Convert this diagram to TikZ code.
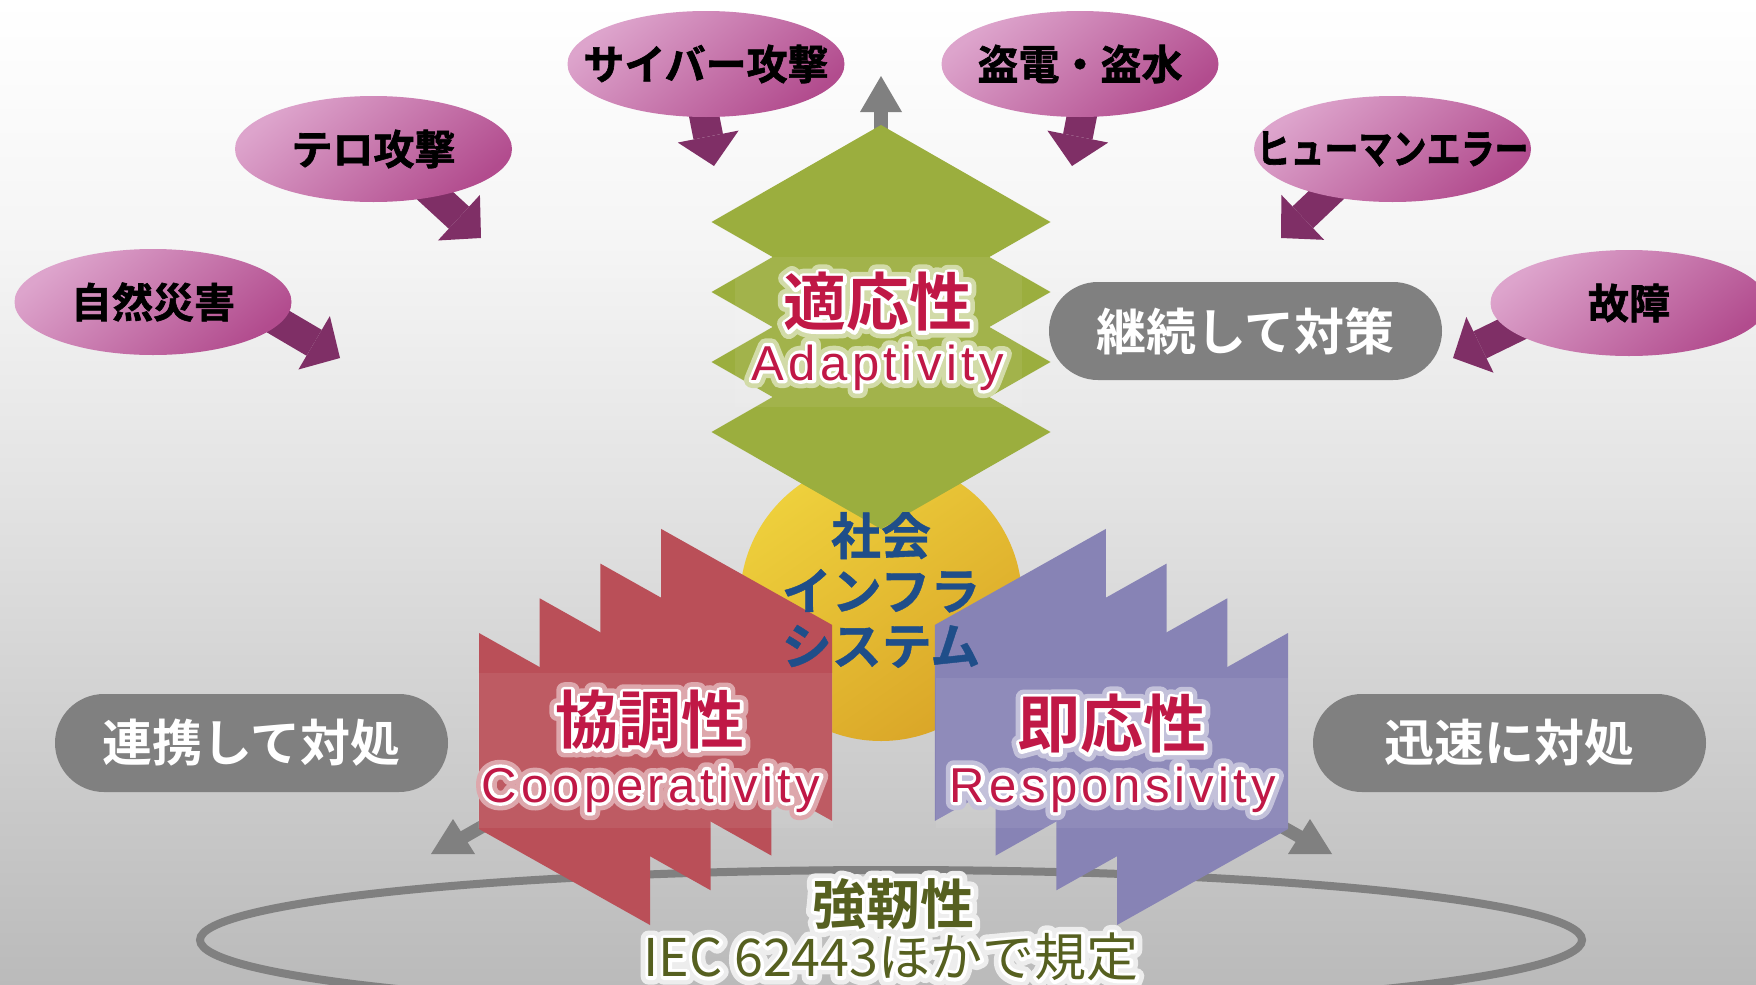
\documentclass[tikz,border=0pt]{standalone}
\usepackage{fontspec}
\usepackage{graphicx}
\usetikzlibrary{arrows.meta,shapes.geometric}
\setmainfont{Liberation Sans}
\newfontfamily\jp{Noto Sans CJK JP}[BoldFont={Noto Sans CJK JP Bold}]
\newfontfamily\jpheavy{Noto Sans CJK JP Bold}[FakeBold=1.5]
\newfontfamily\jpstrong{Noto Sans CJK JP Bold}[FakeBold=0.8]
\newfontfamily\latsp{Liberation Sans}[LetterSpace=9]

\definecolor{pinklight}{RGB}{221,164,204}
\definecolor{pinkdark}{RGB}{178,76,142}
\definecolor{threatplum}{RGB}{127,47,102}
\definecolor{axisgray}{RGB}{128,128,128}
\definecolor{leafgreen}{RGB}{155,174,62}
\definecolor{sunlight}{RGB}{238,208,60}
\definecolor{sundark}{RGB}{218,166,40}
\definecolor{panelred}{RGB}{186,79,88}
\definecolor{panelblue}{RGB}{135,131,181}
\definecolor{crimson}{RGB}{192,24,70}
\definecolor{navyblue}{RGB}{31,78,137}
\definecolor{olive}{RGB}{86,96,32}

% backdrop: white at the top, fading to light gray at the bottom
\pgfdeclareverticalshading{backdrop}{100bp}{color(0bp)=(black!27); color(25bp)=(black!27);
  color(37.5bp)=(black!19); color(50bp)=(black!11); color(62.5bp)=(black!4);
  color(75bp)=(white); color(100bp)=(white)}

% glowing text: a wide tinted stroke, a white outline stroke, then the filled text
\newcommand\halotext[2]{\leavevmode
  \rlap{\color{#1}\special{pdf:literal direct 2 Tr 8 w 1 j 1 J}#2\special{pdf:literal direct 0 Tr 0 j 0 J}}%
  \rlap{\color{white}\special{pdf:literal direct 2 Tr 3.4 w 1 j 1 J}#2\special{pdf:literal direct 0 Tr 0 j 0 J}}#2}

\pgfdeclarelayer{bglayer}
\pgfdeclarelayer{threatlayer}
\pgfsetlayers{bglayer,threatlayer,main}

\begin{document}
\begin{tikzpicture}[x=0.5pt,y=-0.5pt,
  threat/.style={ellipse, minimum width=138.5pt, minimum height=53pt, inner sep=0pt,
    top color=pinklight, bottom color=pinkdark, shading angle=40,
    font=\jpheavy\fontsize{20.5pt}{24pt}\selectfont, text=black},
  threatarrow/.style={draw=threatplum, line width=15pt,
    -{Triangle[length=15pt,width=31pt,line width=0pt]}},
  axisarrow/.style={draw=axisgray, line width=7pt,
    -{Triangle[length=18pt,width=21pt,line width=0pt]}},
  axisline/.style={draw=axisgray, line width=6.5pt},
  pill/.style={fill=axisgray, rounded corners=24.5pt, minimum width=196.5pt,
    minimum height=49pt, inner sep=0pt, text=white,
    font=\jp\bfseries\fontsize{25pt}{30pt}\selectfont},
  jptitle/.style={text=crimson, inner sep=0pt, font=\jp\bfseries\fontsize{31.5pt}{36pt}\selectfont},
  entitle/.style={text=crimson, inner sep=0pt, anchor=base, font=\latsp\fontsize{24.5pt}{28pt}\selectfont},
  glowbox/.style={fill=white, opacity=0.07}
]
\useasboundingbox (0,0) rectangle (1756,985);
\begin{pgfonlayer}{bglayer}
  \shade[shading=backdrop] (0,0) rectangle (1756,985);
\end{pgfonlayer}

% resilience ring at the base
\draw[axisgray, line width=4pt] (891,940) ellipse [x radius=345.5pt, y radius=35pt];

% three axes from the hub
\coordinate (hub) at (881,600);
\coordinate (uptip) at (881,76);
\coordinate (lefthead) at (455,842);
\coordinate (righthead) at (1309,842);
\draw[axisarrow] (hub) -- (uptip);
\draw[axisline] (hub) -- (lefthead);
\draw[axisline] (hub) -- (righthead);
\fill[axisgray] (453,819) -- (475,854) -- (431,854) -- cycle;
\fill[axisgray] (1310,819) -- (1332,854) -- (1288,854) -- cycle;

% social infrastructure core
\node[circle, minimum size=141pt, inner sep=0pt, top color=sunlight, bottom color=sundark,
  shading angle=35] (core) at (hub) {};

% adaptivity: stacked diamonds
\foreach \cy in {222,292,362,432}
  \fill[leafgreen] (881,\cy-97) -- (1050.5,\cy) -- (881,\cy+97) -- (711.5,\cy) -- cycle;
\fill[glowbox] (735,257) rectangle (1022,407);

% cooperativity and responsivity: staggered panels
\foreach \i in {3,2,1,0} {
  \fill[panelred] ({479+60.7*\i},{633-34.7*\i}) -- ++(171,96) -- ++(0,196) -- ++(-171,-96) -- cycle;
  \fill[panelblue] ({1288-60.7*\i},{633-34.7*\i}) -- ++(-171,96) -- ++(0,196) -- ++(171,-96) -- cycle;
}
\fill[glowbox] (478,673) rectangle (833,828);
\fill[glowbox] (936,678) rectangle (1288,828);

\node[jptitle] (adaptJ) at (878,302) {\halotext{leafgreen!45!white}{適応性}};
\node[entitle] (adaptE) at (878,380) {\halotext{leafgreen!45!white}{Adaptivity}};
\node[jptitle] (coopJ) at (650,720) {\halotext{panelred!50!white}{協調性}};
\node[entitle] (coopE) at (651,802) {\halotext{panelred!50!white}{Cooperativity}};
\node[jptitle] (respJ) at (1112,724) {\halotext{panelblue!50!white}{即応性}};
\node[entitle] (respE) at (1113,802) {\halotext{panelblue!50!white}{Responsivity}};

\node[text=olive, inner sep=0pt, font=\jp\bfseries\fontsize{27pt}{30pt}\selectfont]
  (robust) at (893,904) {\halotext{black!7}{強靭性}};
\node[text=olive, inner sep=0pt, font=\jp\fontsize{26pt}{30pt}\selectfont]
  (iec) at (891,957) {\halotext{black!7}{IEC 62443ほかで規定}};

\node[text=navyblue, align=center, inner sep=0pt,
  font=\jpstrong\fontsize{25pt}{27.5pt}\selectfont] (coretext) at (881,590)
  {社会\\インフラ\\システム};

% countermeasures
\node[pill] (keizoku) at (1245.5,331) {継続して対策};
\node[pill] (renkei) at (251.5,743) {連携して対処};
\node[pill] (jinsoku) at (1509.5,743) {迅速に対処};

% threats
\node[threat] (tero) at (373.5,149) {\makebox[0pt]{テロ攻撃}};
\node[threat] (saigai) at (153,302) {\makebox[0pt]{自然災害}};
\node[threat] (cyber) at (706,64) {\makebox[0pt]{サイバー攻撃}};
\node[threat] (touden) at (1080,64) {\makebox[0pt]{盗電・盗水}};
\node[threat] (human) at (1392.5,149) {\makebox[0pt]{\scalebox{0.83}[1]{ヒューマンエラー}}};
\node[threat] (koshou) at (1629,303) {\makebox[0pt]{故障}};

\coordinate (terotip) at (481,238);
\coordinate (saigaitip) at (340,358);
\coordinate (cybertip) at (714,166);
\coordinate (toudentip) at (1072,166);
\coordinate (humantip) at (1281,238);
\coordinate (koshoutip) at (1453,358);

\begin{pgfonlayer}{threatlayer}
  \draw[threatarrow] ([shift={(44.5,31)}]tero.center) -- (terotip);
  \draw[threatarrow] ([shift={(102,6)}]saigai.center) -- (saigaitip);
  \draw[threatarrow] ([shift={(-5,36)}]cyber.center) -- (cybertip);
  \draw[threatarrow] ([shift={(5,36)}]touden.center) -- (toudentip);
  \draw[threatarrow] ([shift={(-52.5,33)}]human.center) -- (humantip);
  \draw[threatarrow] ([shift={(-94,15)}]koshou.center) -- (koshoutip);
\end{pgfonlayer}
\end{tikzpicture}
\end{document}
